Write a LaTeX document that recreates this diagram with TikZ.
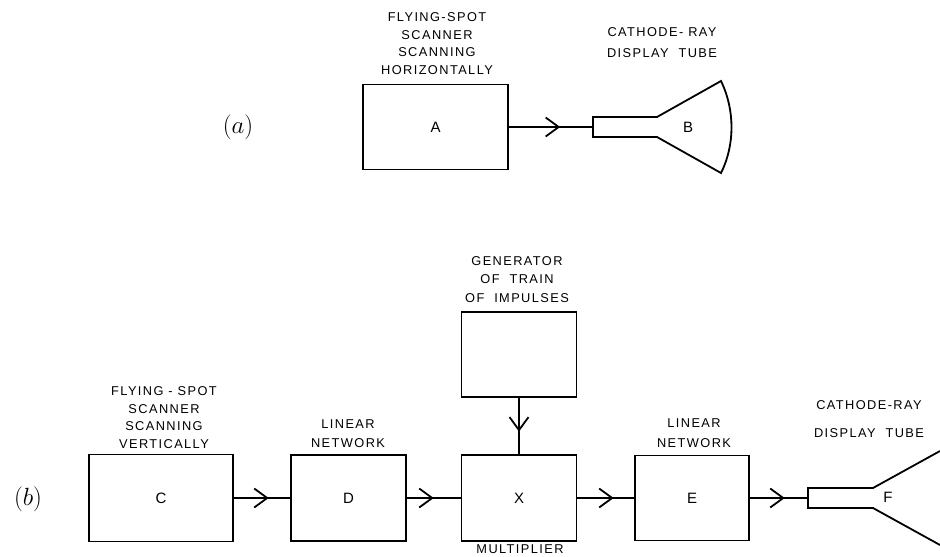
\documentclass[tikz,border=0pt]{standalone}
\usepackage{fontspec}
\newfontfamily\lbl[LetterSpace=11]{Liberation Sans}
\usetikzlibrary{arrows.meta,decorations.markings}
\begin{document}
\begin{tikzpicture}[x=1pt,y=-1pt,
  line width=1.8pt,
  blk/.style={draw,line width=1.8pt,inner sep=0pt,minimum width=#1},
  blk/.default=115pt,
  txt/.style={font=\lbl\fontsize{12.8}{#1}\selectfont,align=center,inner sep=0pt},
  txt/.default=18pt,
  lettr/.style={font=\lbl\fontsize{15}{16}\selectfont,inner sep=0pt},
  part/.style={font=\fontsize{24}{26}\selectfont,inner sep=0pt},
  flow/.style={postaction={decorate},decoration={markings,
    mark=at position #1 with {\arrow{Straight Barb[length=13pt,width=19pt,line width=1.8pt]}}}}
]
\useasboundingbox (0,0) rectangle (940,557);

% ---------- (a) ----------
\node[part] (pa) at (238,127) {$(a)$};
\node[blk=145pt,minimum height=85pt] (A) at (435.5,127) {\lbl\fontsize{15}{16}\selectfont A};
\node[txt=17.7pt] (Alab) at (437,43.5) {FLYING-SPOT\\SCANNER\\SCANNING\\HORIZONTALLY};

\coordinate (Bin) at (593,127);
\draw (Bin) -- (593,117) -- (657,117) -- (721,81)
      .. controls (735,110) and (735,145) .. (721,173)
      -- (657,137) -- (593,137) -- cycle;
\node[lettr] (B) at (688,127) {B};
\node[txt=21pt] (Blab) at (662,42.5) {CATHODE- RAY\\DISPLAY\ \ TUBE};

\draw[flow=0.61] (A.east) -- (Bin);

% ---------- (b) ----------
\node[part] (pb) at (28,499) {$(b)$};
\node[blk=144pt,minimum height=87pt] (C) at (161,498) {\lbl\fontsize{15}{16}\selectfont C};
\node[txt=17.6pt] (Clab) at (164,417.5) {FLYING - SPOT\\SCANNER\\SCANNING\\VERTICALLY};

\node[blk=115pt,minimum height=86pt] (D) at (348.5,498) {\lbl\fontsize{15}{16}\selectfont D};
\node[txt=19pt] (Dlab) at (348,433.5) {LINEAR\\NETWORK};

\node[blk=115pt,minimum height=86pt] (X) at (519,498) {\lbl\fontsize{15}{16}\selectfont X};
\node[txt] (Xlab) at (520,549.5) {MULTIPLIER};

\node[blk=115pt,minimum height=85pt] (G) at (519,354.5) {};
\node[txt=18.5pt] (Glab) at (517,279.5) {GENERATOR\\OF\ \ TRAIN\\OF\ \ IMPULSES};

\node[blk=114pt,minimum height=85pt] (E) at (692,498) {\lbl\fontsize{15}{16}\selectfont E};
\node[txt=20pt] (Elab) at (694,433) {LINEAR\\NETWORK};

\coordinate (Fin) at (808,498);
\draw (940,451) -- (873,488) -- (808,488) -- (Fin) -- (808,508) -- (873,508) -- (940,545);
\node[lettr] (F) at (888,497) {F};
\node[txt=28pt] (Flab) at (869,419) {CATHODE-RAY\\DISPLAY\ \ TUBE};

\draw[flow=0.62] (C.east) -- (D.west);
\draw[flow=0.5] (D.east) -- (X.west);
\draw[flow=0.6] (G.south) -- (X.north);
\draw[flow=0.64] (X.east) -- (E.west);
\draw[flow=0.6] (E.east) -- (Fin);
\end{tikzpicture}
\end{document}
